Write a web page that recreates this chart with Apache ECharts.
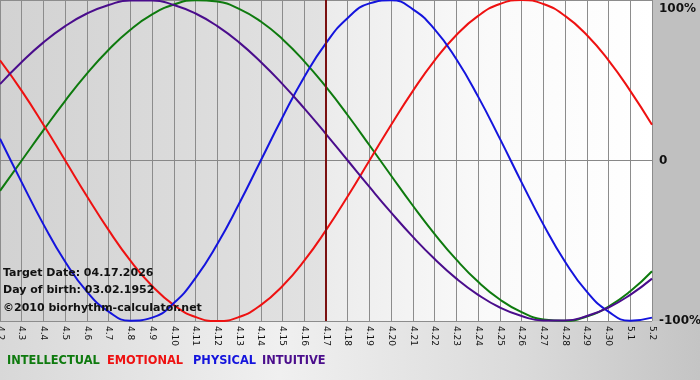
<!DOCTYPE html>
<html><head><meta charset="utf-8">
<script src="https://cdn.jsdelivr.net/npm/echarts@6/dist/echarts.min.js"></script>
<style>
html,body{margin:0;padding:0;}
body{width:700px;height:380px;background:linear-gradient(to right,#d8d8d8 0%,#f0f0f0 40%,#dadada 75%,#c4c4c4 100%);}
#c{width:700px;height:380px;}
</style></head><body><div id="c"></div>
<script>
const days = ['4.2','4.3','4.4','4.5','4.6','4.7','4.8','4.9','4.10','4.11','4.12','4.13','4.14','4.15','4.16','4.17','4.18','4.19','4.20','4.21','4.22','4.23','4.24','4.25','4.26','4.27','4.28','4.29','4.30','5.1','5.2'];
const physical = [13.6,-13.6,-39.8,-63.1,-81.7,-94.2,-99.8,-97.9,-88.8,-73.1,-52.0,-27.0,0,27.0,52.0,73.1,88.8,97.9,99.8,94.2,81.7,63.1,39.8,13.6,-13.6,-39.8,-63.1,-81.7,-94.2,-99.8,-97.9];
const emotional = [62.4,43.4,22.3,0,-22.3,-43.4,-62.4,-78.2,-90.1,-97.5,-100,-97.5,-90.1,-78.2,-62.4,-43.4,-22.3,0,22.3,43.4,62.4,78.2,90.1,97.5,100,97.5,90.1,78.2,62.4,43.4,22.3];
const intellectual = [-18.9,0,18.9,37.2,54.1,69.0,81.5,91.0,97.2,99.9,99.0,94.5,86.6,75.6,61.8,45.8,28.2,9.5,-9.5,-28.2,-45.8,-61.8,-75.6,-86.6,-94.5,-99.0,-99.9,-97.2,-91.0,-81.5,-69.0];
const intuitive = [47.6,61.4,73.6,83.7,91.6,96.9,99.7,99.7,96.9,91.6,83.7,73.6,61.4,47.6,32.5,16.5,0,-16.5,-32.5,-47.6,-61.4,-73.6,-83.7,-91.6,-96.9,-99.7,-99.7,-96.9,-91.6,-83.7,-73.6];
const targetDay = '4.17';
const yTicks = {'100':'100%','0':'0','-100':'-100%'};
const legendNames = ['INTELLECTUAL','EMOTIONAL','PHYSICAL','INTUITIVE'];
const infoLines = ['Target Date: 04.17.2026','Day of birth: 03.02.1952','©2010 biorhythm-calculator.net'];

const colors = {INTELLECTUAL:'#0e7a0e',EMOTIONAL:'#ee1111',PHYSICAL:'#1414dd',INTUITIVE:'#4a0d8c'};
const dataMap = {INTELLECTUAL:intellectual,EMOTIONAL:emotional,PHYSICAL:physical,INTUITIVE:intuitive};
const legendX = [7,107,193,262];

const chart = echarts.init(document.getElementById('c'));
const series = legendNames.map((n,i)=>({
  name:n,type:'line',data:dataMap[n],smooth:true,showSymbol:false,symbol:'none',
  lineStyle:{width:2,color:colors[n]},itemStyle:{color:colors[n]},z:3,animation:false
}));
series.push({
  name:'bg',type:'line',data:[],animation:false,z:-5,
  markArea:{silent:true,z:-5,data:[
    [{xAxis:days[0],itemStyle:{color:new echarts.graphic.LinearGradient(0,0,1,0,[{offset:0,color:'#d2d2d2'},{offset:1,color:'#e2e2e2'}])}},{xAxis:targetDay}],
    [{xAxis:targetDay,itemStyle:{color:new echarts.graphic.LinearGradient(0,0,1,0,[{offset:0,color:'#ececec'},{offset:0.5,color:'#fafafa'},{offset:1,color:'#ffffff'}])}},{xAxis:days[days.length-1]}]
  ]}
});
series.push({
  name:'target',type:'line',data:[],animation:false,z:4,
  markLine:{silent:true,symbol:'none',label:{show:false},lineStyle:{color:'#7a1010',width:2,type:'solid'},data:[{xAxis:targetDay}]}
});
chart.setOption({
  animation:false,
  grid:{left:0,right:48,top:0,bottom:59,containLabel:false,outerBoundsMode:'none'},
  xAxis:{type:'category',data:days,boundaryGap:false,
    axisLine:{show:true,lineStyle:{color:'#888',width:1}},
    axisTick:{show:true,length:4,lineStyle:{color:'#888'},interval:0},
    axisLabel:{rotate:-90,interval:0,fontFamily:'DejaVu Sans',fontSize:9,color:'#111',margin:5},
    splitLine:{show:true,interval:0,lineStyle:{color:'#8c8c8c',width:1}}
  },
  yAxis:{type:'value',min:-100,max:100,interval:100,position:'right',
    axisLine:{show:false},axisTick:{show:false},
    axisLabel:{formatter:v=>yTicks[String(v)],fontFamily:'DejaVu Sans',fontWeight:'bold',fontSize:12,color:'#111',margin:7,
      padding:[3,0,0,0],verticalAlignMaxLabel:'top',verticalAlignMinLabel:'middle'},
    splitLine:{show:true,lineStyle:{color:'#8c8c8c',width:1}}
  },
  graphic:[
    {type:'rect',right:0,top:0,shape:{width:48,height:321},style:{fill:'#c0c0c0'},z:-10,silent:true},
    ...infoLines.map((t,i)=>({type:'text',left:3,top:[268,285,303][i],z:10,
      style:{text:t,font:'bold 11px "DejaVu Sans"',fill:'#111'}})),
    ...legendNames.map((n,i)=>({type:'text',left:legendX[i],top:356,z:10,
      style:{text:n,font:'bold 11.4px "DejaVu Sans"',fill:colors[n]}}))
  ],
  series:series
});
</script></body></html>
